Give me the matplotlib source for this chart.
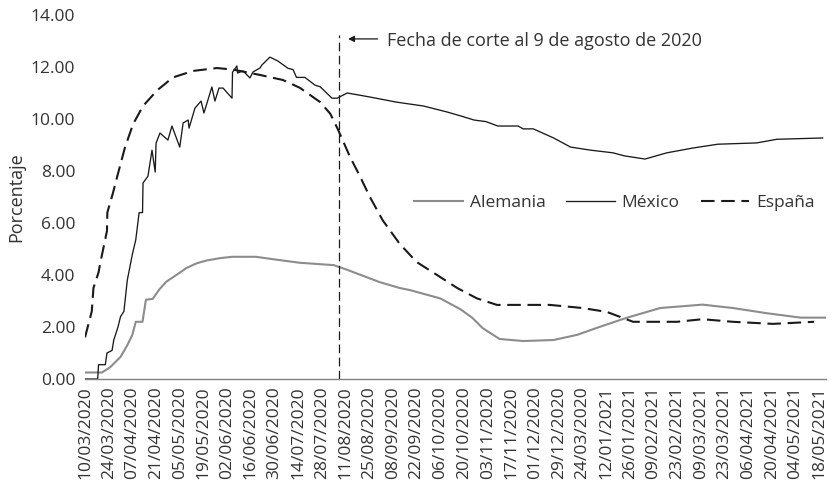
import matplotlib
matplotlib.use("Agg")
import matplotlib.pyplot as plt

plt.rcParams['font.family'] = ['Open Sans', 'DejaVu Sans']

# Tick labels (as printed in the original, one every 14 positions)
tick_labels = ["10/03/2020", "24/03/2020", "07/04/2020", "21/04/2020", "05/05/2020",
               "19/05/2020", "02/06/2020", "16/06/2020", "30/06/2020", "14/07/2020",
               "28/07/2020", "11/08/2020", "25/08/2020", "08/09/2020", "22/09/2020",
               "06/10/2020", "20/10/2020", "03/11/2020", "17/11/2020", "01/12/2020",
               "29/12/2020", "24/03/2020", "12/01/2021", "26/01/2021", "09/02/2021",
               "23/02/2021", "09/03/2021", "23/03/2021", "06/04/2021", "20/04/2021",
               "04/05/2021", "18/05/2021"]
tick_step = 14

# Alemania (days since 10/03/2020, percentage)
ale_day = [0, 10, 15, 21, 25, 28, 30, 34, 36, 40, 44, 48, 54, 60, 66, 72, 80, 87, 101,
           112, 127, 147, 155, 174, 186, 192, 210, 222, 229, 235, 245, 259, 277, 291,
           304, 320, 340, 365, 383, 403, 423, 438]
ale_val = [0.25, 0.25, 0.46, 0.85, 1.3, 1.7, 2.2, 2.2, 3.05, 3.08, 3.45, 3.74, 4.0, 4.27,
           4.45, 4.56, 4.65, 4.7, 4.7, 4.6, 4.47, 4.38, 4.2, 3.73, 3.5, 3.42, 3.1, 2.68,
           2.35, 1.96, 1.54, 1.46, 1.5, 1.7, 2.0, 2.35, 2.73, 2.86, 2.73, 2.53, 2.36, 2.36]

# México
mex_day = [0, 7.5, 8, 12, 13, 16, 17, 19.5, 21, 23, 25, 28, 30, 32, 34, 34.3, 37.2, 39.6,
           41.5, 42, 44.3, 49, 51.4, 56, 58, 61, 61.5, 65, 68.6, 70.3, 75, 76.8, 79.2,
           81.6, 86.9, 87.2, 89.8, 90.2, 93.4, 97.5, 99.3, 103.4, 104.6, 109.3, 114, 120,
           123, 125, 130, 136, 139, 146, 149, 155, 162, 168, 184, 200, 214, 223, 230,
           237, 244, 256, 259, 265, 277, 287, 299, 312, 319, 331, 344, 359, 374, 397,
           409, 436]
mex_val = [0, 0, 0.55, 0.55, 1.0, 1.1, 1.5, 2.0, 2.4, 2.6, 3.8, 4.8, 5.35, 6.4, 6.4, 7.54,
           7.8, 8.8, 7.96, 9.07, 9.46, 9.19, 9.73, 8.92, 9.85, 9.96, 9.65, 10.42, 10.69,
           10.23, 11.23, 10.69, 11.19, 11.19, 10.8, 11.8, 12.04, 11.77, 11.85, 11.58,
           11.81, 11.96, 12.08, 12.38, 12.23, 11.95, 11.9, 11.6, 11.6, 11.3, 11.24, 10.8,
           10.8, 11.0, 10.92, 10.85, 10.65, 10.5, 10.27, 10.1, 9.96, 9.9, 9.73, 9.73,
           9.62, 9.62, 9.27, 8.92, 8.8, 8.7, 8.58, 8.46, 8.7, 8.88, 9.03, 9.08, 9.22, 9.27]

# España
esp_day = [0, 4, 5, 8, 9, 13, 13.2, 16.5, 19.5, 23.6, 28.4, 34.3, 42.6, 52, 64, 78, 87.5,
           103, 117, 127, 139, 145, 149.5, 156.6, 162.5, 168.4, 176, 186, 196, 205.7,
           220, 231.7, 243.5, 274.8, 294, 308.5, 324, 350, 365, 383, 406.6, 431]
esp_val = [1.6, 2.6, 3.5, 4.1, 4.45, 5.7, 6.4, 7.15, 7.9, 8.9, 9.8, 10.5, 11.1, 11.6,
           11.85, 11.96, 11.9, 11.7, 11.5, 11.2, 10.65, 10.2, 9.6, 8.55, 7.8, 7.0, 6.1,
           5.2, 4.5, 4.1, 3.5, 3.1, 2.85, 2.85, 2.73, 2.58, 2.2, 2.2, 2.3, 2.2, 2.12, 2.2]

cutoff_day = 150
cutoff_text = "Fecha de corte al 9 de agosto de 2020"

fig = plt.figure(figsize=(8.31, 4.95), dpi=100)
ax = fig.add_axes([85/831, 1-379/495, 741/831, (379-15)/495])

txt = '#333333'
fs = 12.5
ax.plot(ale_day, ale_val, color='#8c8c8c', lw=1.5, label='Alemania')
ax.plot(mex_day, mex_val, color='#1a1a1a', lw=0.95, label='México')
ax.plot(esp_day, esp_val, color='#1a1a1a', lw=1.5, dashes=(6.5, 3.2), label='España')

ax.plot([cutoff_day, cutoff_day], [0, 13.25], color='#1a1a1a', lw=0.9, dashes=(7, 3.5))
ax.annotate('', xy=(cutoff_day + 5.5, 13.08), xytext=(cutoff_day + 23, 13.08),
            arrowprops=dict(arrowstyle='-|>', color='#1a1a1a', lw=0.9,
                            mutation_scale=9, shrinkA=0, shrinkB=0))
ax.text(cutoff_day + 28.5, 13.0, cutoff_text, fontsize=13, color=txt,
        va='center', ha='left')

ax.set_xlim(0, 438)
ax.set_ylim(0, 14)
ax.set_yticks(range(0, 15, 2))
ax.set_yticklabels([f"{v:.2f}" for v in range(0, 15, 2)])
ax.set_xticks([i * tick_step for i in range(len(tick_labels))])
ax.set_xticklabels(tick_labels, rotation=90)
ax.tick_params(axis='both', length=0, labelsize=fs, labelcolor=txt)
ax.tick_params(axis='y', pad=7)
ax.tick_params(axis='x', pad=5)

for s in ['top', 'right', 'left']:
    ax.spines[s].set_visible(False)
ax.spines['bottom'].set_color('#808080')
ax.spines['bottom'].set_linewidth(1.0)

ax.set_ylabel('Porcentaje', fontsize=13, color=txt)
ax.yaxis.set_label_coords(-0.081, 0.5)

leg = ax.legend(loc='center left', bbox_to_anchor=(414/831, 1-203/495),
                bbox_transform=fig.transFigure, ncol=3, frameon=False,
                fontsize=fs, handlelength=2.8, handletextpad=0.4,
                columnspacing=1.2, borderpad=0, borderaxespad=0)
for t in leg.get_texts():
    t.set_color(txt)

fig.savefig('out.png', dpi=100)
